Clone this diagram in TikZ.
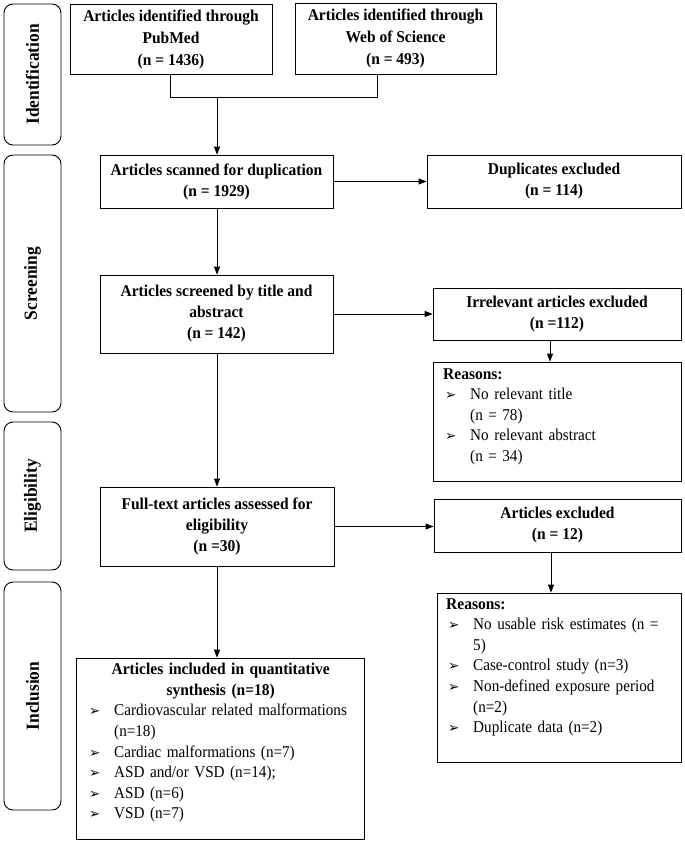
\documentclass[tikz,border=0pt]{standalone}
\usepackage{fontspec}
\setmainfont{Liberation Serif}[UprightFeatures={FakeStretch=0.92},BoldFeatures={FakeStretch=0.94}]
\newfontfamily\symfont{DejaVu Sans}
\usetikzlibrary{arrows.meta,calc}
\newcommand{\bul}{{\symfont\fontsize{13.5}{13.5}\selectfont ➢}}
\newcommand{\itm}[1]{\par\noindent\hangindent=27pt\hangafter=1\makebox[27pt][l]{\hspace{2pt}\bul}#1\par}
\tikzset{
  box/.style={draw, line width=0.8pt, align=center, inner sep=2pt,
    font=\bfseries\fontsize{16.5}{21}\selectfont},
  phase/.style={draw, line width=0.9pt, rounded corners=9pt, rotate=90,
    font=\bfseries\fontsize{18.5}{20}\selectfont},
  listtxt/.style={inner sep=0pt, anchor=north west, align=left,
    font=\fontsize{16.5}{20.6}\selectfont},
  arr/.style={line width=0.8pt, -{Triangle[length=8pt,width=6pt]}},
  ln/.style={line width=0.8pt}
}
\begin{document}
\begin{tikzpicture}[x=1pt,y=-1pt]
\useasboundingbox (0,0) rectangle (685,843);
% phase boxes
\node[phase, minimum width=141pt, minimum height=57pt] (ph1) at (32.5,74.5) {Identification};
\node[phase, minimum width=257pt, minimum height=57pt] (ph2) at (32.5,283.5) {Screening};
\node[phase, minimum width=148pt, minimum height=57pt] (ph3) at (32.5,496) {Eligibility};
\node[phase, minimum width=228pt, minimum height=57pt] (ph4) at (32.5,696) {Inclusion};
% main boxes
\node[box, minimum width=202pt, minimum height=70pt, font=\bfseries\fontsize{16.5}{22}\selectfont] (pub) at (171,39) {Articles identified through\\PubMed\\(n = 1436)};
\node[box, minimum width=201pt, minimum height=71pt, font=\bfseries\fontsize{16.5}{22}\selectfont] (wos) at (395.5,38.5) {Articles identified through\\Web of Science\\(n = 493)};
\node[box, minimum width=233pt, minimum height=53pt] (scan) at (216.5,181.5) {Articles scanned for duplication\\(n = 1929)};
\node[box, minimum width=254pt, minimum height=53pt] (dup) at (554,181.5) {Duplicates excluded\\(n = 114)};
\node[box, minimum width=233pt, minimum height=78pt] (scr) at (216.5,314) {Articles screened by title and\\abstract\\(n = 142)};
\node[box, minimum width=248pt, minimum height=52pt] (irr) at (557,314) {Irrelevant articles excluded\\(n =112)};
\node[draw, line width=0.8pt, minimum width=248pt, minimum height=119pt] (rea1) at (557,421.5) {};
\node[listtxt, text width=232pt] (rea1t) at (443,368) {\textbf{Reasons:}\itm{No relevant title\newline(n = 78)}\itm{No relevant abstract\newline(n = 34)}};
\node[box, minimum width=234pt, minimum height=79pt] (full) at (217,526.5) {Full-text articles assessed for\\eligibility\\(n =30)};
\node[box, minimum width=247pt, minimum height=53pt] (exc) at (557.5,525.5) {Articles excluded\\(n = 12)};
\node[draw, line width=0.8pt, minimum width=244pt, minimum height=169pt] (rea2) at (559,677.5) {};
\node[listtxt, text width=230pt] (rea2t) at (446,598) {\textbf{Reasons:}\itm{No usable risk estimates (n =\newline5)}\itm{Case-control study (n=3)}\itm{Non-defined exposure period\newline(n=2)}\itm{Duplicate data (n=2)}};
\node[draw, line width=0.8pt, minimum width=288pt, minimum height=181pt] (inc) at (220,748.5) {};
\node[listtxt, text width=267pt] (inct) at (87,663) {{\centering\bfseries Articles included in quantitative\\synthesis (n=18)\par}\itm{Cardiovascular related malformations\newline(n=18)}\itm{Cardiac malformations (n=7)}\itm{ASD and/or VSD (n=14);}\itm{ASD (n=6)}\itm{VSD (n=7)}};
% connectors
\coordinate (jl) at (170,97);
\coordinate (jr) at (377,97);
\coordinate (jm) at (217,97);
\coordinate (c1) at (550,0);
\coordinate (c2) at (551,0);
\draw[ln] (pub.south -| jl) -- (jl) -- (jr) -- (wos.south -| jr);
\draw[arr] (jm) -- (scan.north -| jm);
\draw[arr] (scan.east) -- (dup.west);
\draw[arr] (scan.south -| jm) -- (scr.north -| jm);
\draw[arr] (scr.east) -- (irr.west);
\draw[arr] (irr.south -| c1) -- (rea1.north -| c1);
\draw[arr] (scr.south -| jm) -- (full.north -| jm);
\draw[arr] (full.east) -- (full.east -| exc.west);
\draw[arr] (exc.south -| c2) -- (rea2.north -| c2);
\draw[arr] (full.south -| jm) -- (inc.north -| jm);
\end{tikzpicture}
\end{document}
